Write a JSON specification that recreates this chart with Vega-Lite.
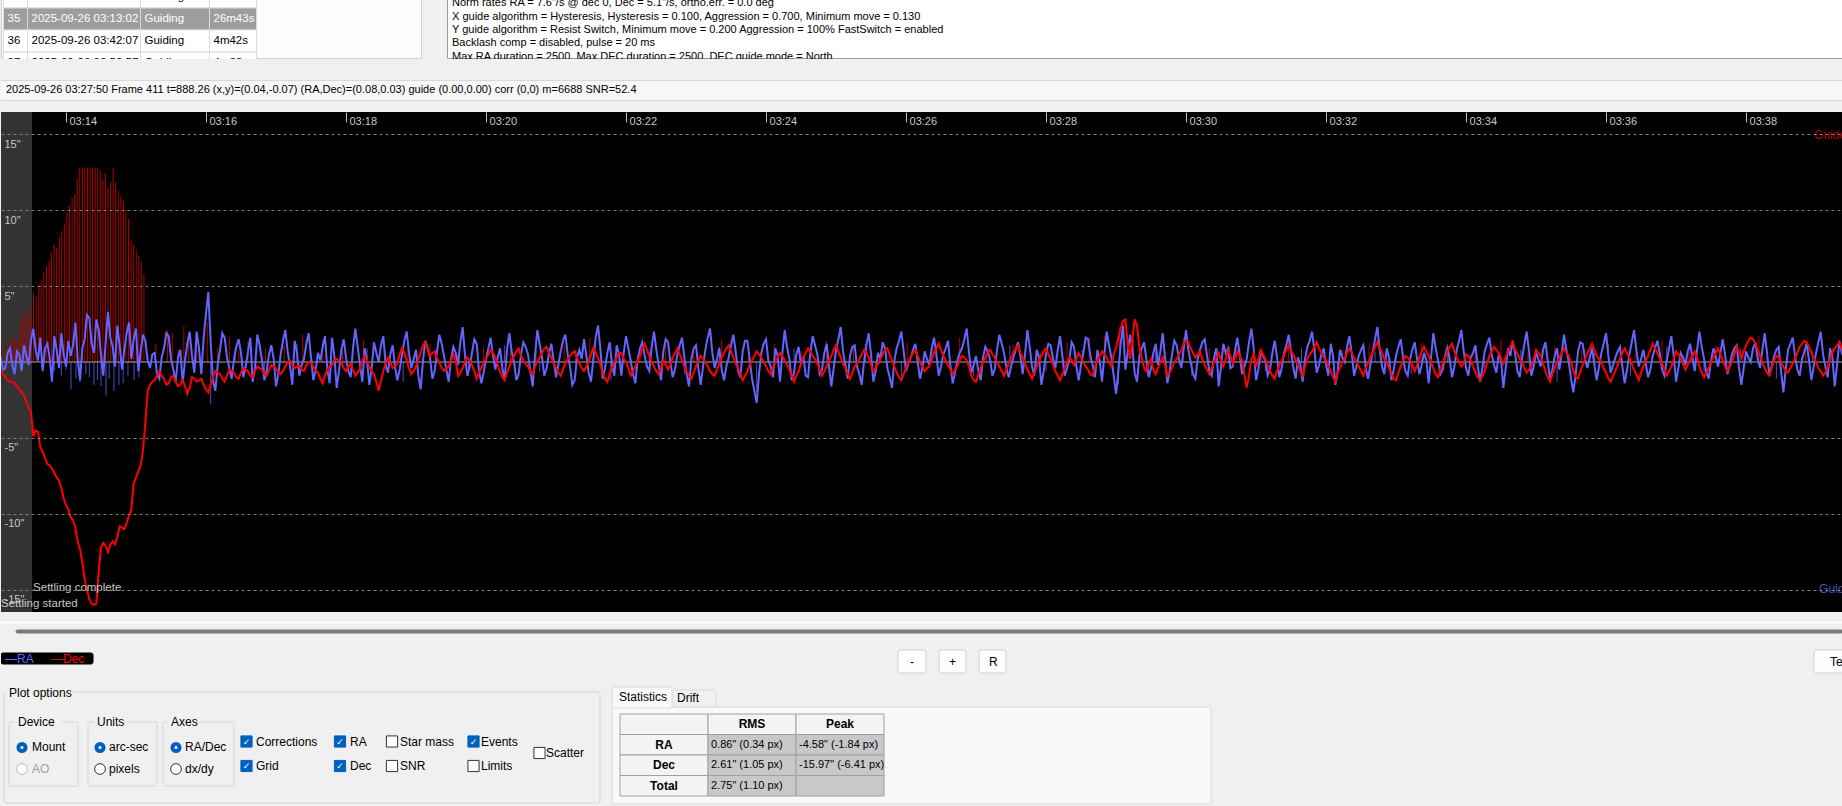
{
"$schema": "https://vega.github.io/schema/vega-lite/v6.json",
"background": "#f0f0f0",
"padding": 0,
"bounds": "flush",
"spacing": 0,
"config": {"view": {"stroke": null}, "font": "Liberation Sans"},
"datasets": {
"guide": [
{"t":4,"r":0.3,"d":-0.6},{"t":6,"r":-0.5,"d":-0.8},{"t":8,"r":-0.4,"d":-1.0},{"t":10,"r":0.6,"d":-1.2},{"t":12,"r":0.9,"d":-1.3},{"t":14,"r":-0.2,"d":-1.3},{"t":16,"r":-0.8,"d":-1.4},{"t":18,"r":0.7,"d":-1.6},{"t":20,"r":0.5,"d":-1.8},{"t":22,"r":-0.6,"d":-2.0},
{"t":24,"r":1.1,"d":-2.2},{"t":26,"r":0.4,"d":-2.6},{"t":28,"r":-0.2,"d":-3.0},{"t":30,"r":1.4,"d":-3.3},{"t":32,"r":2.2,"d":-4.9},{"t":34,"r":0.8,"d":-4.5},{"t":36,"r":0.1,"d":-4.6},{"t":38,"r":1.6,"d":-5.6},{"t":40,"r":-0.6,"d":-5.9},{"t":42,"r":0.9,"d":-6.3},
{"t":44,"r":1.2,"d":-6.7},{"t":46,"r":0.3,"d":-6.8},{"t":48,"r":-1.3,"d":-7.0},{"t":50,"r":1.7,"d":-7.3},{"t":52,"r":0.8,"d":-7.6},{"t":54,"r":-0.4,"d":-7.8},{"t":56,"r":1.9,"d":-8.3},{"t":58,"r":0.5,"d":-9.0},{"t":60,"r":-0.3,"d":-9.4},{"t":62,"r":1.4,"d":-9.7},
{"t":64,"r":0.4,"d":-10.2},{"t":66,"r":1.1,"d":-10.4},{"t":68,"r":2.6,"d":-10.9},{"t":70,"r":0.2,"d":-11.8},{"t":72,"r":-1.2,"d":-12.3},{"t":74,"r":0.9,"d":-13.2},{"t":76,"r":1.5,"d":-14.3},{"t":78,"r":3.1,"d":-15.0},{"t":80,"r":2.9,"d":-15.6},{"t":82,"r":1.2,"d":-15.9},
{"t":84,"r":0.6,"d":-16.0},{"t":86,"r":2.8,"d":-15.9},{"t":88,"r":2.1,"d":-13.8},{"t":90,"r":0.5,"d":-12.2},{"t":92,"r":-0.9,"d":-11.9},{"t":94,"r":1.3,"d":-12.1},{"t":96,"r":3.3,"d":-12.5},{"t":98,"r":1.6,"d":-12.0},{"t":100,"r":1.0,"d":-11.8},{"t":102,"r":-0.3,"d":-12.0},
{"t":104,"r":2.4,"d":-11.5},{"t":106,"r":1.1,"d":-10.8},{"t":108,"r":-0.5,"d":-10.9},{"t":110,"r":0.8,"d":-11.0},{"t":112,"r":1.9,"d":-10.6},{"t":114,"r":2.6,"d":-10.1},{"t":116,"r":0.2,"d":-9.7},{"t":118,"r":1.5,"d":-8.0},{"t":120,"r":2.2,"d":-7.6},{"t":122,"r":-0.6,"d":-7.2},
{"t":124,"r":0.7,"d":-6.8},{"t":126,"r":1.8,"d":-5.8},{"t":128,"r":1.4,"d":-4.0},{"t":130,"r":0.1,"d":-1.9},{"t":132,"r":-0.4,"d":-1.5},
{"t":134,"r":0.5,"d":-1.3},{"t":136,"r":0.6,"d":-1.2},{"t":138,"r":-0.8,"d":-0.9},{"t":140,"r":-1.1,"d":-0.6},{"t":142,"r":0.3,"d":-0.9},{"t":144,"r":0.9,"d":-1.1},{"t":146,"r":1.9,"d":-1.5},{"t":148,"r":1.7,"d":-1.4},{"t":150,"r":0.2,"d":-1.0},{"t":152,"r":-0.5,"d":-0.9},
{"t":154,"r":-1.3,"d":-1.3},{"t":156,"r":0.3,"d":-1.6},{"t":158,"r":0.8,"d":-1.5},{"t":160,"r":-1.4,"d":-1.2},{"t":162,"r":0.1,"d":-1.6},{"t":164,"r":1.2,"d":-2.1},{"t":166,"r":2.0,"d":-1.7},{"t":168,"r":0.4,"d":-1.0},{"t":170,"r":-0.7,"d":-1.1},{"t":172,"r":2.0,"d":-1.3},
{"t":174,"r":0.9,"d":-1.2},{"t":176,"r":-0.8,"d":-1.1},{"t":178,"r":1.6,"d":-1.5},{"t":180,"r":3.2,"d":-1.8},{"t":182,"r":4.6,"d":-2.0},{"t":184,"r":1.3,"d":-1.5},{"t":186,"r":-1.2,"d":-1.0},{"t":188,"r":-1.9,"d":-0.6},{"t":190,"r":-0.2,"d":-0.7},{"t":192,"r":0.8,"d":-0.8},
{"t":194,"r":1.9,"d":-1.1},{"t":196,"r":1.6,"d":-1.3},{"t":198,"r":0.3,"d":-0.9},{"t":200,"r":-0.4,"d":-0.5},{"t":202,"r":-1.1,"d":-0.6},{"t":204,"r":0.2,"d":-0.7},{"t":206,"r":1.0,"d":-1.0},{"t":208,"r":1.5,"d":-1.1},{"t":210,"r":0.6,"d":-0.7},{"t":212,"r":-1.0,"d":-0.4},
{"t":214,"r":-0.3,"d":-0.5},{"t":216,"r":0.7,"d":-0.6},{"t":218,"r":1.6,"d":-0.9},{"t":220,"r":-1.3,"d":-1.0},{"t":222,"r":-0.4,"d":-0.6},{"t":224,"r":1.8,"d":-0.3},{"t":226,"r":1.1,"d":-0.4},{"t":228,"r":0.1,"d":-0.5},{"t":230,"r":-1.2,"d":-0.8},{"t":232,"r":-0.6,"d":-0.9},
{"t":234,"r":0.5,"d":-0.5},{"t":236,"r":1.1,"d":-0.2},{"t":238,"r":0.2,"d":-0.3},{"t":240,"r":-1.6,"d":-0.4},{"t":242,"r":-0.8,"d":-0.7},{"t":244,"r":0.5,"d":-0.8},{"t":246,"r":1.4,"d":-0.6},{"t":248,"r":2.1,"d":-0.3},{"t":250,"r":0.7,"d":0.0},{"t":252,"r":-0.3,"d":0.1},
{"t":254,"r":-1.5,"d":-0.2},{"t":256,"r":1.4,"d":-0.4},{"t":258,"r":0.6,"d":-0.3},{"t":260,"r":-0.9,"d":-0.2},{"t":262,"r":-0.2,"d":-0.5},{"t":264,"r":0.2,"d":-0.6},{"t":266,"r":1.2,"d":-0.2},{"t":268,"r":1.9,"d":0.0},{"t":270,"r":0.3,"d":-0.1},{"t":272,"r":-1.2,"d":-0.3},
{"t":274,"r":-0.5,"d":-0.6},{"t":276,"r":0.6,"d":-0.7},{"t":278,"r":0.1,"d":-1.1},{"t":280,"r":1.0,"d":-1.4},{"t":282,"r":1.7,"d":-0.9},{"t":284,"r":-0.5,"d":-0.5},{"t":286,"r":-1.4,"d":-0.3},{"t":288,"r":1.6,"d":-0.2},{"t":290,"r":0.4,"d":0.1},{"t":292,"r":-1.7,"d":0.2},
{"t":294,"r":-0.6,"d":0.1},{"t":296,"r":0.8,"d":0.0},{"t":298,"r":1.5,"d":-0.4},{"t":300,"r":0.3,"d":-0.6},{"t":302,"r":-0.6,"d":-0.3},{"t":304,"r":-1.0,"d":-0.1},{"t":306,"r":0.9,"d":-0.5},{"t":308,"r":2.2,"d":-0.9},{"t":310,"r":1.0,"d":-0.7},{"t":312,"r":-0.2,"d":-0.4},
{"t":314,"r":-1.3,"d":0.1},{"t":316,"r":0.9,"d":0.4},{"t":318,"r":0.1,"d":0.1},{"t":320,"r":-1.5,"d":-0.3},{"t":322,"r":-0.4,"d":-0.6},{"t":324,"r":1.3,"d":-0.8},{"t":326,"r":0.6,"d":-1.3},{"t":328,"r":0.0,"d":-1.9},{"t":330,"r":1.1,"d":-1.2},{"t":332,"r":1.7,"d":-0.6},
{"t":334,"r":-0.2,"d":-0.1},{"t":336,"r":-0.7,"d":0.3},{"t":338,"r":0.5,"d":0.0},{"t":340,"r":1.1,"d":-0.4},{"t":342,"r":-0.3,"d":-0.3},{"t":344,"r":-1.2,"d":-0.1},{"t":346,"r":-0.5,"d":0.5},{"t":348,"r":0.5,"d":0.9},{"t":350,"r":1.4,"d":0.6},{"t":352,"r":2.0,"d":0.1},
{"t":354,"r":0.6,"d":-0.4},{"t":356,"r":-0.4,"d":-0.8},{"t":358,"r":0.2,"d":-0.6},{"t":360,"r":0.8,"d":-0.3},{"t":362,"r":-0.9,"d":0.2},{"t":364,"r":-1.8,"d":0.6},{"t":366,"r":0.1,"d":1.1},{"t":368,"r":1.4,"d":1.3},{"t":370,"r":0.9,"d":0.8},{"t":372,"r":0.3,"d":0.4},
{"t":374,"r":-1.1,"d":0.6},{"t":376,"r":-0.6,"d":0.7},{"t":378,"r":0.7,"d":0.2},{"t":380,"r":1.8,"d":0.0},{"t":382,"r":1.2,"d":-0.4},{"t":384,"r":0.4,"d":-0.6},{"t":386,"r":-0.5,"d":-0.4},{"t":388,"r":-1.3,"d":-0.3},{"t":390,"r":0.2,"d":0.1},{"t":392,"r":1.0,"d":0.5},
{"t":394,"r":0.6,"d":0.1},{"t":396,"r":-0.2,"d":-0.9},{"t":398,"r":1.3,"d":-0.7},{"t":400,"r":2.3,"d":-0.4},{"t":402,"r":0.4,"d":0.0},{"t":404,"r":-0.9,"d":0.3},{"t":406,"r":-0.3,"d":0.1},{"t":408,"r":0.6,"d":-0.2},{"t":410,"r":1.5,"d":-0.6},{"t":412,"r":1.2,"d":-1.1},
{"t":414,"r":-0.6,"d":-0.7},{"t":416,"r":-1.4,"d":-0.4},{"t":418,"r":-0.7,"d":0.0},{"t":420,"r":0.2,"d":0.2},{"t":422,"r":0.9,"d":0.5},{"t":424,"r":1.6,"d":0.8},{"t":426,"r":0.4,"d":0.6},{"t":428,"r":-0.5,"d":0.3},{"t":430,"r":0.3,"d":-0.2},{"t":432,"r":0.9,"d":-0.6},
{"t":434,"r":-0.4,"d":-1.0},{"t":436,"r":-1.1,"d":-1.2},{"t":438,"r":0.8,"d":-0.7},{"t":440,"r":1.9,"d":-0.3},{"t":442,"r":0.7,"d":0.1},{"t":444,"r":0.0,"d":0.4},{"t":446,"r":-1.2,"d":0.7},{"t":448,"r":-0.8,"d":0.9},{"t":450,"r":0.5,"d":0.4},{"t":452,"r":1.3,"d":0.1},
{"t":454,"r":1.0,"d":-0.1},{"t":456,"r":0.5,"d":-0.3},{"t":458,"r":-0.6,"d":-0.6},{"t":460,"r":-1.6,"d":-0.8},{"t":462,"r":0.4,"d":-0.3},{"t":464,"r":2.1,"d":0.0},{"t":466,"r":1.2,"d":0.3},{"t":468,"r":0.3,"d":0.6},{"t":470,"r":-0.9,"d":0.9},{"t":472,"r":-0.4,"d":1.0},
{"t":474,"r":0.6,"d":0.6},{"t":476,"r":1.2,"d":0.3},{"t":478,"r":0.1,"d":-0.1},{"t":480,"r":-1.0,"d":-0.4},{"t":482,"r":-0.2,"d":-0.7},{"t":484,"r":0.7,"d":-0.9},{"t":486,"r":1.4,"d":-0.5},{"t":488,"r":1.8,"d":-0.1},{"t":490,"r":0.5,"d":0.2},{"t":492,"r":-0.3,"d":0.4},
{"t":494,"r":-1.5,"d":0.6},{"t":496,"r":-1.2,"d":0.7},{"t":498,"r":0.3,"d":0.3},{"t":500,"r":0.8,"d":-0.1},{"t":502,"r":0.2,"d":-0.4},{"t":504,"r":1.5,"d":-0.6},{"t":506,"r":0.4,"d":-0.3},{"t":508,"r":-0.7,"d":0.1},{"t":510,"r":-1.3,"d":0.5},{"t":512,"r":0.2,"d":0.9},
{"t":514,"r":1.6,"d":0.6},{"t":516,"r":2.4,"d":0.3},{"t":518,"r":0.9,"d":-0.2},{"t":520,"r":-1.1,"d":-0.7},{"t":522,"r":-0.4,"d":-1.1},{"t":524,"r":0.6,"d":-1.3},{"t":526,"r":1.3,"d":-0.8},{"t":528,"r":-0.2,"d":-0.4},{"t":530,"r":-0.9,"d":0.0},{"t":532,"r":1.1,"d":0.3},
{"t":534,"r":0.5,"d":0.6},{"t":536,"r":-0.9,"d":0.6},{"t":538,"r":0.6,"d":0.2},{"t":540,"r":1.7,"d":0.0},{"t":542,"r":0.9,"d":-0.4},{"t":544,"r":0.1,"d":-0.9},{"t":546,"r":-0.8,"d":-0.6},{"t":548,"r":-1.4,"d":-0.3},{"t":550,"r":0.2,"d":0.1},{"t":552,"r":0.9,"d":0.4},
{"t":554,"r":1.3,"d":0.9},{"t":556,"r":0.4,"d":1.2},{"t":558,"r":-0.3,"d":0.8},{"t":560,"r":-0.6,"d":0.4},{"t":562,"r":1.0,"d":0.0},{"t":564,"r":2.0,"d":-0.3},{"t":566,"r":0.8,"d":-0.6},{"t":568,"r":-0.2,"d":-0.8},{"t":570,"r":-1.2,"d":-0.4},{"t":572,"r":0.7,"d":0.1},
{"t":574,"r":1.5,"d":-0.2},{"t":576,"r":1.3,"d":-0.5},{"t":578,"r":0.0,"d":-0.2},{"t":580,"r":-1.0,"d":0.3},{"t":582,"r":-0.5,"d":0.6},{"t":584,"r":0.5,"d":0.9},{"t":586,"r":1.1,"d":0.5},{"t":588,"r":1.6,"d":0.1},{"t":590,"r":0.3,"d":-0.3},{"t":592,"r":-0.8,"d":-0.6},
{"t":594,"r":-1.6,"d":-0.9},{"t":596,"r":0.2,"d":-1.1},{"t":598,"r":0.9,"d":-0.7},{"t":600,"r":1.1,"d":-0.3},{"t":602,"r":-0.4,"d":0.1},{"t":604,"r":-1.5,"d":0.4},{"t":606,"r":-0.3,"d":0.2},{"t":608,"r":0.8,"d":0.0},{"t":610,"r":1.6,"d":-0.3},{"t":612,"r":2.2,"d":-0.6},
{"t":614,"r":0.6,"d":-0.8},{"t":616,"r":-0.4,"d":-0.9},{"t":618,"r":0.2,"d":-0.5},{"t":620,"r":0.9,"d":-0.1},{"t":622,"r":-0.5,"d":0.3},{"t":624,"r":-1.2,"d":0.6},{"t":626,"r":-0.3,"d":0.9},{"t":628,"r":0.3,"d":1.1},{"t":630,"r":1.1,"d":0.7},{"t":632,"r":1.8,"d":0.3},
{"t":634,"r":0.7,"d":-0.1},{"t":636,"r":-0.6,"d":-0.4},{"t":638,"r":-1.0,"d":-0.8},{"t":640,"r":0.7,"d":-1.2},{"t":642,"r":1.4,"d":-0.9},{"t":644,"r":1.4,"d":-0.6},{"t":646,"r":0.2,"d":-0.2},{"t":648,"r":-1.1,"d":0.1},{"t":650,"r":-1.9,"d":0.4},{"t":652,"r":-2.7,"d":0.7},
{"t":654,"r":-0.8,"d":0.5},{"t":656,"r":0.6,"d":0.3},{"t":658,"r":1.2,"d":0.0},{"t":660,"r":1.5,"d":-0.3},{"t":662,"r":0.1,"d":-0.6},{"t":664,"r":-0.3,"d":-0.8},{"t":666,"r":-1.0,"d":-0.4},{"t":668,"r":0.9,"d":0.0},{"t":670,"r":0.4,"d":0.3},{"t":672,"r":-1.3,"d":0.6},
{"t":674,"r":0.6,"d":0.4},{"t":676,"r":2.1,"d":0.1},{"t":678,"r":1.0,"d":-0.2},{"t":680,"r":0.2,"d":-0.5},{"t":682,"r":-1.2,"d":-0.9},{"t":684,"r":-0.7,"d":-1.3},{"t":686,"r":0.5,"d":-0.9},{"t":688,"r":1.0,"d":-0.6},{"t":690,"r":-0.2,"d":-0.1},{"t":692,"r":0.4,"d":0.3},
{"t":694,"r":-0.9,"d":0.6},{"t":696,"r":-1.0,"d":0.9},{"t":698,"r":0.6,"d":0.7},{"t":700,"r":1.7,"d":0.4},{"t":702,"r":1.1,"d":0.2},{"t":704,"r":0.5,"d":-0.1},{"t":706,"r":-0.8,"d":-0.5},{"t":708,"r":-0.5,"d":-0.9},{"t":710,"r":0.6,"d":-0.6},{"t":712,"r":1.2,"d":-0.3},
{"t":714,"r":-0.3,"d":0.1},{"t":716,"r":-1.6,"d":0.4},{"t":718,"r":-0.4,"d":0.8},{"t":720,"r":0.8,"d":1.1},{"t":722,"r":1.5,"d":0.7},{"t":724,"r":2.3,"d":0.3},{"t":726,"r":0.7,"d":-0.1},{"t":728,"r":-0.2,"d":-0.4},{"t":730,"r":-1.1,"d":-0.8},{"t":732,"r":0.4,"d":-1.1},
{"t":734,"r":1.0,"d":-0.7},{"t":736,"r":1.1,"d":-0.3},{"t":738,"r":-0.3,"d":-0.1},{"t":740,"r":-0.8,"d":0.2},{"t":742,"r":-1.5,"d":0.5},{"t":744,"r":0.0,"d":0.8},{"t":746,"r":1.1,"d":0.6},{"t":748,"r":1.9,"d":0.3},{"t":750,"r":0.5,"d":-0.2},{"t":752,"r":-1.3,"d":-0.6},
{"t":754,"r":-0.6,"d":-0.4},{"t":756,"r":0.6,"d":-0.1},{"t":758,"r":0.2,"d":0.2},{"t":760,"r":1.3,"d":0.5},{"t":762,"r":0.9,"d":0.8},{"t":764,"r":-0.4,"d":0.9},{"t":766,"r":-1.0,"d":0.5},{"t":768,"r":-1.7,"d":0.1},{"t":770,"r":0.1,"d":-0.3},{"t":772,"r":0.9,"d":-0.7},
{"t":774,"r":1.4,"d":-1.0},{"t":776,"r":2.0,"d":-1.2},{"t":778,"r":0.7,"d":-0.8},{"t":780,"r":-0.6,"d":-0.4},{"t":782,"r":-0.1,"d":0.0},{"t":784,"r":0.3,"d":0.3},{"t":786,"r":0.8,"d":0.6},{"t":788,"r":1.2,"d":0.8},{"t":790,"r":0.0,"d":0.4},{"t":792,"r":-1.1,"d":0.0},
{"t":794,"r":-0.4,"d":-0.3},{"t":796,"r":0.7,"d":-0.6},{"t":798,"r":0.2,"d":-0.4},{"t":800,"r":-0.2,"d":-0.3},{"t":802,"r":0.9,"d":0.2},{"t":804,"r":1.6,"d":0.6},{"t":806,"r":0.5,"d":0.9},{"t":808,"r":-0.9,"d":1.2},{"t":810,"r":-0.3,"d":0.8},{"t":812,"r":0.5,"d":0.4},
{"t":814,"r":0.9,"d":0.1},{"t":816,"r":1.4,"d":-0.2},{"t":818,"r":-0.2,"d":-0.5},{"t":820,"r":-1.4,"d":-0.8},{"t":822,"r":-0.7,"d":-0.5},{"t":824,"r":0.1,"d":-0.3},{"t":826,"r":0.6,"d":0.1},{"t":828,"r":0.9,"d":0.4},{"t":830,"r":1.5,"d":0.3},{"t":832,"r":2.2,"d":0.1},
{"t":834,"r":0.6,"d":-0.3},{"t":836,"r":-0.7,"d":-0.9},{"t":838,"r":-0.2,"d":-1.2},{"t":840,"r":0.4,"d":-1.3},{"t":842,"r":-0.6,"d":-0.8},{"t":844,"r":-1.2,"d":-0.4},{"t":846,"r":0.3,"d":0.0},{"t":848,"r":1.0,"d":0.3},{"t":850,"r":0.7,"d":0.6},{"t":852,"r":0.2,"d":0.8},
{"t":854,"r":-0.9,"d":0.5},{"t":856,"r":-0.5,"d":0.3},{"t":858,"r":0.8,"d":0.0},{"t":860,"r":1.8,"d":-0.3},{"t":862,"r":1.2,"d":-0.6},{"t":864,"r":0.6,"d":-0.9},{"t":866,"r":-0.4,"d":-0.5},{"t":868,"r":-1.0,"d":-0.1},{"t":870,"r":-0.3,"d":0.3},{"t":872,"r":0.3,"d":0.6},
{"t":874,"r":0.8,"d":0.9},{"t":876,"r":1.3,"d":1.1},{"t":878,"r":0.4,"d":0.6},{"t":880,"r":-0.8,"d":0.3},{"t":882,"r":0.5,"d":-0.1},{"t":884,"r":2.1,"d":-0.5},{"t":886,"r":1.0,"d":-0.8},{"t":888,"r":-0.3,"d":-1.1},{"t":890,"r":-0.9,"d":-0.7},{"t":892,"r":0.8,"d":-0.3},
{"t":894,"r":0.3,"d":0.1},{"t":896,"r":-1.5,"d":0.4},{"t":898,"r":-0.6,"d":0.7},{"t":900,"r":0.5,"d":0.9},{"t":902,"r":1.2,"d":0.5},{"t":904,"r":1.1,"d":0.2},{"t":906,"r":0.2,"d":-0.2},{"t":908,"r":-0.4,"d":-0.6},{"t":910,"r":0.8,"d":-0.9},{"t":912,"r":1.7,"d":-1.2},
{"t":914,"r":0.4,"d":-0.8},{"t":916,"r":-0.9,"d":-0.4},{"t":918,"r":-0.4,"d":0.0},{"t":920,"r":0.2,"d":0.3},{"t":922,"r":1.3,"d":0.1},{"t":924,"r":1.0,"d":-0.2},{"t":926,"r":-0.3,"d":0.2},{"t":928,"r":-1.2,"d":0.6},{"t":930,"r":-0.2,"d":0.3},{"t":932,"r":0.6,"d":0.0},
{"t":934,"r":1.6,"d":-0.3},{"t":936,"r":1.5,"d":-0.5},{"t":938,"r":0.4,"d":-0.8},{"t":940,"r":-0.2,"d":-0.9},{"t":942,"r":-1.0,"d":-0.3},{"t":944,"r":0.8,"d":0.1},{"t":946,"r":0.1,"d":0.4},{"t":948,"r":-1.3,"d":0.7},{"t":950,"r":0.5,"d":0.5},{"t":952,"r":2.0,"d":0.3},
{"t":954,"r":1.1,"d":0.0},{"t":956,"r":0.3,"d":-0.3},{"t":958,"r":-0.9,"d":0.5},{"t":960,"r":-2.1,"d":0.9},{"t":962,"r":-0.6,"d":1.6},{"t":964,"r":1.2,"d":2.2},{"t":966,"r":2.4,"d":2.7},{"t":968,"r":-0.5,"d":2.8},{"t":970,"r":0.6,"d":1.2},{"t":972,"r":1.8,"d":0.2},
{"t":974,"r":0.9,"d":1.5},{"t":976,"r":-0.7,"d":2.8},{"t":978,"r":-1.3,"d":2.4},{"t":980,"r":0.4,"d":1.0},{"t":982,"r":0.9,"d":0.3},{"t":984,"r":1.3,"d":-0.4},{"t":986,"r":0.2,"d":-0.6},{"t":988,"r":-1.0,"d":-0.1},{"t":990,"r":-0.4,"d":0.2},{"t":992,"r":0.6,"d":-0.5},
{"t":994,"r":1.2,"d":-0.8},{"t":996,"r":-0.2,"d":-0.4},{"t":998,"r":0.7,"d":0.0},{"t":1000,"r":1.9,"d":0.3},{"t":1002,"r":0.3,"d":-0.2},{"t":1004,"r":-1.4,"d":-0.9},{"t":1006,"r":-0.6,"d":-0.7},{"t":1008,"r":0.5,"d":-0.4},{"t":1010,"r":1.4,"d":0.0},{"t":1012,"r":1.1,"d":0.2},
{"t":1014,"r":0.2,"d":0.5},{"t":1016,"r":-0.4,"d":0.8},{"t":1018,"r":0.9,"d":1.2},{"t":1020,"r":2.1,"d":1.4},{"t":1022,"r":0.8,"d":1.3},{"t":1024,"r":0.0,"d":0.9},{"t":1026,"r":-0.8,"d":0.6},{"t":1028,"r":-1.1,"d":0.3},{"t":1030,"r":0.2,"d":0.5},{"t":1032,"r":0.8,"d":0.7},
{"t":1034,"r":1.3,"d":0.2},{"t":1036,"r":1.5,"d":-0.2},{"t":1038,"r":0.4,"d":-0.5},{"t":1040,"r":-0.6,"d":-0.8},{"t":1042,"r":-0.9,"d":-0.4},{"t":1044,"r":0.3,"d":0.0},{"t":1046,"r":0.9,"d":0.3},{"t":1048,"r":-1.6,"d":0.6},{"t":1050,"r":-0.3,"d":0.1},{"t":1052,"r":1.2,"d":-0.3},
{"t":1054,"r":0.6,"d":0.2},{"t":1056,"r":0.9,"d":0.8},{"t":1058,"r":-0.4,"d":0.4},{"t":1060,"r":-0.3,"d":-0.1},{"t":1062,"r":0.8,"d":0.3},{"t":1064,"r":1.6,"d":0.7},{"t":1066,"r":0.5,"d":0.4},{"t":1068,"r":-0.8,"d":0.1},{"t":1070,"r":-0.3,"d":-0.8},{"t":1072,"r":0.2,"d":-1.7},
{"t":1074,"r":1.3,"d":-0.9},{"t":1076,"r":2.2,"d":0.2},{"t":1078,"r":0.9,"d":0.5},{"t":1080,"r":-1.2,"d":-0.3},{"t":1082,"r":-0.5,"d":0.2},{"t":1084,"r":0.7,"d":0.8},{"t":1086,"r":0.4,"d":0.5},{"t":1088,"r":0.1,"d":0.2},{"t":1090,"r":-0.9,"d":-0.2},{"t":1092,"r":-0.5,"d":-0.6},
{"t":1094,"r":0.6,"d":-0.9},{"t":1096,"r":1.4,"d":-1.1},{"t":1098,"r":0.3,"d":-0.6},{"t":1100,"r":-1.0,"d":-0.2},{"t":1102,"r":-0.4,"d":0.1},{"t":1104,"r":0.6,"d":0.4},{"t":1106,"r":1.1,"d":0.8},{"t":1108,"r":1.8,"d":1.1},{"t":1110,"r":0.7,"d":0.7},{"t":1112,"r":-0.4,"d":0.5},
{"t":1114,"r":-1.1,"d":0.1},{"t":1116,"r":0.3,"d":-0.2},{"t":1118,"r":-0.2,"d":-0.6},{"t":1120,"r":-1.3,"d":-0.9},{"t":1122,"r":0.2,"d":-0.3},{"t":1124,"r":1.0,"d":0.2},{"t":1126,"r":1.4,"d":0.5},{"t":1128,"r":2.0,"d":0.7},{"t":1130,"r":0.8,"d":1.0},{"t":1132,"r":-0.7,"d":1.3},
{"t":1134,"r":-0.2,"d":0.9},{"t":1136,"r":0.5,"d":0.6},{"t":1138,"r":0.9,"d":0.3},{"t":1140,"r":-0.2,"d":0.1},{"t":1142,"r":-0.9,"d":-0.3},{"t":1144,"r":1.2,"d":-0.6},{"t":1146,"r":0.4,"d":-1.0},{"t":1148,"r":-1.5,"d":-1.3},{"t":1150,"r":-0.6,"d":-0.7},{"t":1152,"r":0.8,"d":-0.4},
{"t":1154,"r":0.3,"d":0.0},{"t":1156,"r":0.0,"d":0.2},{"t":1158,"r":1.0,"d":0.6},{"t":1160,"r":1.7,"d":0.9},{"t":1162,"r":0.6,"d":0.6},{"t":1164,"r":-0.9,"d":0.3},{"t":1166,"r":-0.3,"d":0.0},{"t":1168,"r":0.4,"d":-0.3},{"t":1170,"r":0.8,"d":-0.6},{"t":1172,"r":1.1,"d":-0.9},
{"t":1174,"r":-0.4,"d":-0.4},{"t":1176,"r":-1.1,"d":-0.1},{"t":1178,"r":-0.2,"d":0.3},{"t":1180,"r":0.7,"d":0.6},{"t":1182,"r":1.5,"d":1.0},{"t":1184,"r":2.3,"d":1.3},{"t":1186,"r":0.8,"d":0.9},{"t":1188,"r":-0.3,"d":0.6},{"t":1190,"r":-0.8,"d":0.2},{"t":1192,"r":0.9,"d":0.0},
{"t":1194,"r":0.3,"d":-0.4},{"t":1196,"r":-1.2,"d":-0.8},{"t":1198,"r":-0.5,"d":-1.1},{"t":1200,"r":0.4,"d":-1.2},{"t":1202,"r":1.0,"d":-0.7},{"t":1204,"r":1.5,"d":-0.3},{"t":1206,"r":0.3,"d":0.1},{"t":1208,"r":-0.6,"d":0.4},{"t":1210,"r":-0.9,"d":0.3},{"t":1212,"r":0.2,"d":0.1},
{"t":1214,"r":0.8,"d":-0.2},{"t":1216,"r":1.3,"d":-0.6},{"t":1218,"r":0.2,"d":-0.2},{"t":1220,"r":-0.8,"d":0.3},{"t":1222,"r":-0.2,"d":0.7},{"t":1224,"r":0.6,"d":1.0},{"t":1226,"r":0.1,"d":0.7},{"t":1228,"r":-1.4,"d":0.4},{"t":1230,"r":0.3,"d":0.0},{"t":1232,"r":1.9,"d":-0.4},
{"t":1234,"r":0.9,"d":-0.8},{"t":1236,"r":0.1,"d":-1.0},{"t":1238,"r":-0.8,"d":-0.5},{"t":1240,"r":-0.5,"d":-0.1},{"t":1242,"r":0.4,"d":0.3},{"t":1244,"r":1.0,"d":0.7},{"t":1246,"r":0.2,"d":1.0},{"t":1248,"r":-1.0,"d":1.2},{"t":1250,"r":-0.3,"d":0.7},{"t":1252,"r":0.8,"d":0.3},
{"t":1254,"r":1.4,"d":0.0},{"t":1256,"r":2.1,"d":-0.3},{"t":1258,"r":0.7,"d":-0.1},{"t":1260,"r":-0.4,"d":0.5},{"t":1262,"r":-0.9,"d":0.4},{"t":1264,"r":0.3,"d":0.1},{"t":1266,"r":0.6,"d":-0.3},{"t":1268,"r":1.1,"d":-0.7},{"t":1270,"r":-0.2,"d":-1.0},{"t":1272,"r":-1.3,"d":-1.2},
{"t":1274,"r":-0.4,"d":-0.9},{"t":1276,"r":0.7,"d":-0.6},{"t":1278,"r":1.2,"d":-0.1},{"t":1280,"r":1.6,"d":0.4},{"t":1282,"r":0.5,"d":0.7},{"t":1284,"r":-0.2,"d":1.0},{"t":1286,"r":-0.7,"d":0.8},{"t":1288,"r":0.5,"d":0.6},{"t":1290,"r":0.1,"d":0.2},{"t":1292,"r":-1.7,"d":-0.1},
{"t":1294,"r":-0.4,"d":0.3},{"t":1296,"r":0.9,"d":0.7},{"t":1298,"r":0.4,"d":1.0},{"t":1300,"r":1.4,"d":1.3},{"t":1302,"r":0.6,"d":0.8},{"t":1304,"r":-0.6,"d":0.6},{"t":1306,"r":-1.0,"d":0.2},{"t":1308,"r":0.2,"d":0.0},{"t":1310,"r":1.2,"d":-0.4},{"t":1312,"r":2.0,"d":-0.7},
{"t":1314,"r":0.7,"d":-0.5},{"t":1316,"r":-0.9,"d":-0.3},{"t":1318,"r":-0.3,"d":0.2},{"t":1320,"r":0.6,"d":0.8},{"t":1322,"r":0.2,"d":0.6},{"t":1324,"r":-0.3,"d":0.4},{"t":1326,"r":0.8,"d":-0.1},{"t":1328,"r":1.3,"d":-0.6},{"t":1330,"r":0.1,"d":-1.0},{"t":1332,"r":-1.1,"d":-1.3},
{"t":1334,"r":-0.5,"d":-0.8},{"t":1336,"r":0.4,"d":-0.4},{"t":1338,"r":0.9,"d":0.0},{"t":1340,"r":-0.5,"d":0.3},{"t":1342,"r":0.6,"d":0.6},{"t":1344,"r":1.8,"d":0.9},{"t":1346,"r":0.8,"d":0.6},{"t":1348,"r":0.0,"d":0.4},{"t":1350,"r":-1.1,"d":0.0},{"t":1352,"r":-2.0,"d":-0.6},
{"t":1354,"r":-0.8,"d":-1.0},{"t":1356,"r":0.7,"d":-1.1},{"t":1358,"r":1.3,"d":-0.6},{"t":1360,"r":1.2,"d":-0.2},{"t":1362,"r":0.2,"d":0.2},{"t":1364,"r":-0.4,"d":0.6},{"t":1366,"r":0.3,"d":0.9},{"t":1368,"r":0.9,"d":1.2},{"t":1370,"r":-0.2,"d":0.8},{"t":1372,"r":-1.2,"d":0.4},
{"t":1374,"r":-0.3,"d":0.2},{"t":1376,"r":0.6,"d":0.0},{"t":1378,"r":1.2,"d":-0.4},{"t":1380,"r":1.9,"d":-0.7},{"t":1382,"r":0.4,"d":-1.1},{"t":1384,"r":-0.7,"d":-1.3},{"t":1386,"r":-0.2,"d":-0.9},{"t":1388,"r":0.3,"d":-0.6},{"t":1390,"r":0.7,"d":-0.2},{"t":1392,"r":1.0,"d":0.2},
{"t":1394,"r":-0.3,"d":0.6},{"t":1396,"r":-1.4,"d":0.9},{"t":1398,"r":-0.5,"d":0.6},{"t":1400,"r":0.5,"d":0.3},{"t":1402,"r":1.3,"d":-0.1},{"t":1404,"r":2.1,"d":-0.5},{"t":1406,"r":0.8,"d":-0.8},{"t":1408,"r":-0.3,"d":-1.2},{"t":1410,"r":0.2,"d":-0.7},{"t":1412,"r":0.8,"d":-0.3},
{"t":1414,"r":-0.1,"d":0.1},{"t":1416,"r":-1.0,"d":0.4},{"t":1418,"r":-0.5,"d":0.8},{"t":1420,"r":0.4,"d":1.2},{"t":1422,"r":0.9,"d":0.9},{"t":1424,"r":1.4,"d":0.6},{"t":1426,"r":0.6,"d":0.2},{"t":1428,"r":-0.5,"d":-0.1},{"t":1430,"r":-0.9,"d":-0.5},{"t":1432,"r":0.1,"d":-0.9},
{"t":1434,"r":0.9,"d":-0.6},{"t":1436,"r":1.7,"d":-0.3},{"t":1438,"r":0.4,"d":0.2},{"t":1440,"r":-1.3,"d":0.7},{"t":1442,"r":-0.4,"d":0.5},{"t":1444,"r":0.6,"d":0.3},{"t":1446,"r":0.3,"d":-0.1},{"t":1448,"r":-0.2,"d":-0.5},{"t":1450,"r":0.7,"d":-0.2},{"t":1452,"r":1.2,"d":0.1},
{"t":1454,"r":0.3,"d":0.4},{"t":1456,"r":-0.6,"d":0.7},{"t":1458,"r":0.8,"d":0.3},{"t":1460,"r":2.0,"d":-0.3},{"t":1462,"r":1.0,"d":-0.7},{"t":1464,"r":0.2,"d":-1.0},{"t":1466,"r":-0.7,"d":-0.7},{"t":1468,"r":-1.1,"d":-0.4},{"t":1470,"r":0.1,"d":0.0},{"t":1472,"r":0.9,"d":0.3},
{"t":1474,"r":0.4,"d":0.6},{"t":1476,"r":-0.3,"d":0.9},{"t":1478,"r":0.6,"d":0.5},{"t":1480,"r":1.5,"d":0.1},{"t":1482,"r":0.5,"d":-0.3},{"t":1484,"r":-0.8,"d":-0.6},{"t":1486,"r":-0.2,"d":-0.3},{"t":1488,"r":0.5,"d":0.0},{"t":1490,"r":0.9,"d":0.5},{"t":1492,"r":1.1,"d":1.0},
{"t":1494,"r":-0.4,"d":0.6},{"t":1496,"r":-1.5,"d":0.3},{"t":1498,"r":-0.4,"d":0.7},{"t":1500,"r":0.7,"d":1.1},{"t":1502,"r":0.3,"d":1.4},{"t":1504,"r":0.0,"d":1.6},{"t":1506,"r":0.9,"d":1.5},{"t":1508,"r":1.3,"d":1.2},{"t":1510,"r":0.2,"d":0.8},{"t":1512,"r":-0.4,"d":0.4},
{"t":1514,"r":0.8,"d":0.0},{"t":1516,"r":1.9,"d":-0.4},{"t":1518,"r":0.6,"d":-0.7},{"t":1520,"r":-0.9,"d":-0.9},{"t":1522,"r":-0.3,"d":-0.4},{"t":1524,"r":0.4,"d":0.1},{"t":1526,"r":0.8,"d":0.4},{"t":1528,"r":1.0,"d":0.3},{"t":1530,"r":-0.6,"d":0.0},{"t":1532,"r":-2.0,"d":-0.3},
{"t":1534,"r":-0.5,"d":-0.6},{"t":1536,"r":0.8,"d":-0.7},{"t":1538,"r":1.2,"d":-0.4},{"t":1540,"r":1.6,"d":-0.1},{"t":1542,"r":0.4,"d":0.2},{"t":1544,"r":-0.5,"d":0.6},{"t":1546,"r":-0.9,"d":1.0},{"t":1548,"r":0.2,"d":1.2},{"t":1550,"r":0.7,"d":1.4},{"t":1552,"r":1.2,"d":1.3},
{"t":1554,"r":0.1,"d":1.0},{"t":1556,"r":-1.2,"d":0.6},{"t":1558,"r":-0.3,"d":0.3},{"t":1560,"r":0.6,"d":0.0},{"t":1562,"r":1.3,"d":-0.4},{"t":1564,"r":2.0,"d":-0.6},{"t":1566,"r":0.5,"d":-0.9},{"t":1568,"r":-0.3,"d":-0.7},{"t":1570,"r":-1.0,"d":-0.3},{"t":1572,"r":0.9,"d":0.2},
{"t":1574,"r":0.3,"d":0.6},{"t":1576,"r":-1.6,"d":0.9},{"t":1578,"r":-0.2,"d":1.1},{"t":1580,"r":1.4,"d":1.3},{"t":1582,"r":0.6,"d":0.9},{"t":1584,"r":0.3,"d":0.6}
],
"corr": [
{"t":8.0,"ax":"Dec","c":0.9},{"t":10.2,"ax":"Dec","c":1.3},{"t":12.4,"ax":"Dec","c":1.6},{"t":14.6,"ax":"Dec","c":1.2},{"t":16.8,"ax":"Dec","c":1.9},{"t":19.0,"ax":"Dec","c":1.5},{"t":21.2,"ax":"Dec","c":2.8},{"t":23.4,"ax":"Dec","c":3.1},{"t":25.6,"ax":"Dec","c":3.3},{"t":27.8,"ax":"Dec","c":3.6},{"t":30.0,"ax":"Dec","c":2.8},{"t":32.2,"ax":"Dec","c":4.6},{"t":34.4,"ax":"Dec","c":4.3},{"t":36.6,"ax":"Dec","c":5.1},{"t":38.8,"ax":"Dec","c":5.4},{"t":41.0,"ax":"Dec","c":5.9},{"t":43.2,"ax":"Dec","c":6.3},{"t":45.4,"ax":"Dec","c":6.7},{"t":47.6,"ax":"Dec","c":7.2},{"t":49.8,"ax":"Dec","c":7.7},{"t":52.0,"ax":"Dec","c":7.5},{"t":54.2,"ax":"Dec","c":8.2},{"t":56.4,"ax":"Dec","c":8.6},{"t":58.6,"ax":"Dec","c":9.1},{"t":60.8,"ax":"Dec","c":9.8},{"t":63.0,"ax":"Dec","c":10.3},{"t":65.2,"ax":"Dec","c":10.8},{"t":67.4,"ax":"Dec","c":11.0},{"t":69.6,"ax":"Dec","c":12.1},{"t":71.8,"ax":"Dec","c":12.8},{"t":74.0,"ax":"Dec","c":12.8},{"t":76.2,"ax":"Dec","c":12.8},{"t":78.4,"ax":"Dec","c":12.8},{"t":80.6,"ax":"Dec","c":12.8},{"t":82.8,"ax":"Dec","c":12.8},{"t":85.0,"ax":"Dec","c":12.8},{"t":87.2,"ax":"Dec","c":12.8},{"t":89.4,"ax":"Dec","c":12.6},{"t":91.6,"ax":"Dec","c":12.0},{"t":93.8,"ax":"Dec","c":12.4},{"t":96.0,"ax":"Dec","c":11.5},{"t":98.2,"ax":"Dec","c":11.8},{"t":100.4,"ax":"Dec","c":12.8},{"t":102.6,"ax":"Dec","c":11.8},{"t":104.8,"ax":"Dec","c":11.3},{"t":107.0,"ax":"Dec","c":10.9},{"t":109.2,"ax":"Dec","c":10.6},{"t":111.4,"ax":"Dec","c":10.0},{"t":113.6,"ax":"Dec","c":9.4},{"t":115.8,"ax":"Dec","c":8.0},{"t":118.0,"ax":"Dec","c":7.7},{"t":120.2,"ax":"Dec","c":7.4},{"t":122.4,"ax":"Dec","c":7.0},{"t":124.6,"ax":"Dec","c":6.6},{"t":126.8,"ax":"Dec","c":5.8},
{"t":137,"ax":"Dec","c":1.2},{"t":147,"ax":"Dec","c":2.1},{"t":151,"ax":"Dec","c":1.9},{"t":156,"ax":"Dec","c":0.8},{"t":161,"ax":"Dec","c":2.4},{"t":165,"ax":"Dec","c":1.5},{"t":172,"ax":"Dec","c":1.0},{"t":181,"ax":"Dec","c":2.6},{"t":190,"ax":"Dec","c":0.9},{"t":200,"ax":"Dec","c":1.7},{"t":208,"ax":"Dec","c":0.7},{"t":216,"ax":"Dec","c":1.4},{"t":231,"ax":"Dec","c":0.9},{"t":247,"ax":"Dec","c":1.1},{"t":263,"ax":"Dec","c":1.8},{"t":280,"ax":"Dec","c":1.4},{"t":297,"ax":"Dec","c":0.8},{"t":315,"ax":"Dec","c":1.4},{"t":334,"ax":"Dec","c":0.7},{"t":353,"ax":"Dec","c":0.9},{"t":372,"ax":"Dec","c":1.2},{"t":396,"ax":"Dec","c":0.6},{"t":418,"ax":"Dec","c":1.0},{"t":441,"ax":"Dec","c":1.3},{"t":463,"ax":"Dec","c":0.8},{"t":487,"ax":"Dec","c":1.1},{"t":509,"ax":"Dec","c":1.6},{"t":531,"ax":"Dec","c":0.7},{"t":552,"ax":"Dec","c":1.0},{"t":574,"ax":"Dec","c":1.3},{"t":598,"ax":"Dec","c":0.9},{"t":622,"ax":"Dec","c":1.5},{"t":645,"ax":"Dec","c":0.8},{"t":667,"ax":"Dec","c":1.2},{"t":690,"ax":"Dec","c":0.7},{"t":712,"ax":"Dec","c":1.4},{"t":735,"ax":"Dec","c":1.0},{"t":758,"ax":"Dec","c":0.6},{"t":781,"ax":"Dec","c":1.3},{"t":803,"ax":"Dec","c":0.9},{"t":826,"ax":"Dec","c":1.6},{"t":849,"ax":"Dec","c":0.8},{"t":872,"ax":"Dec","c":1.1},{"t":895,"ax":"Dec","c":0.7},{"t":918,"ax":"Dec","c":1.3},{"t":937,"ax":"Dec","c":1.6},{"t":950,"ax":"Dec","c":1.7},{"t":963,"ax":"Dec","c":2.3},{"t":975,"ax":"Dec","c":1.5},{"t":995,"ax":"Dec","c":0.8},{"t":1018,"ax":"Dec","c":1.6},{"t":1040,"ax":"Dec","c":0.9},{"t":1063,"ax":"Dec","c":1.2},{"t":1085,"ax":"Dec","c":0.7},{"t":1108,"ax":"Dec","c":1.4},{"t":1131,"ax":"Dec","c":1.0},{"t":1154,"ax":"Dec","c":0.8},{"t":1177,"ax":"Dec","c":1.2},{"t":1200,"ax":"Dec","c":0.6},{"t":1222,"ax":"Dec","c":1.3},{"t":1245,"ax":"Dec","c":0.9},{"t":1268,"ax":"Dec","c":1.1},{"t":1290,"ax":"Dec","c":1.5},{"t":1313,"ax":"Dec","c":0.7},{"t":1336,"ax":"Dec","c":1.0},{"t":1359,"ax":"Dec","c":0.8},{"t":1382,"ax":"Dec","c":1.2},{"t":1405,"ax":"Dec","c":0.6},{"t":1428,"ax":"Dec","c":1.4},{"t":1451,"ax":"Dec","c":0.9},{"t":1474,"ax":"Dec","c":1.1},{"t":1497,"ax":"Dec","c":0.8},{"t":1511,"ax":"Dec","c":1.7},{"t":1528,"ax":"Dec","c":1.0},{"t":1551,"ax":"Dec","c":1.3},{"t":1574,"ax":"Dec","c":0.9},
{"t":50,"ax":"RA","c":-0.6},{"t":56,"ax":"RA","c":-0.9},{"t":60,"ax":"RA","c":-0.5},{"t":64.3,"ax":"RA","c":-1.8},{"t":68.6,"ax":"RA","c":-1.1},{"t":72,"ax":"RA","c":-1.3},{"t":77.1,"ax":"RA","c":-0.8},{"t":80,"ax":"RA","c":-1.0},{"t":84,"ax":"RA","c":-1.5},{"t":87,"ax":"RA","c":-1.2},{"t":90,"ax":"RA","c":-1.6},{"t":94.3,"ax":"RA","c":-2.2},{"t":97,"ax":"RA","c":-1.1},{"t":101.1,"ax":"RA","c":-1.9},{"t":105.4,"ax":"RA","c":-1.5},{"t":109,"ax":"RA","c":-1.4},{"t":113.1,"ax":"RA","c":-0.9},{"t":118.3,"ax":"RA","c":-1.2},{"t":122.6,"ax":"RA","c":-1.0},
{"t":184,"ax":"RA","c":-2.8},{"t":205,"ax":"RA","c":0.8},{"t":230,"ax":"RA","c":-1.0},{"t":258,"ax":"RA","c":1.2},{"t":287,"ax":"RA","c":-0.7},{"t":318,"ax":"RA","c":0.9},{"t":349,"ax":"RA","c":-1.3},{"t":377,"ax":"RA","c":0.6},{"t":405,"ax":"RA","c":-0.9},{"t":436,"ax":"RA","c":1.1},{"t":466,"ax":"RA","c":-0.6},{"t":497,"ax":"RA","c":0.8},{"t":527,"ax":"RA","c":-1.2},{"t":560,"ax":"RA","c":0.7},{"t":590,"ax":"RA","c":-0.8},{"t":620,"ax":"RA","c":1.0},{"t":652,"ax":"RA","c":-2.0},{"t":684,"ax":"RA","c":0.9},{"t":714,"ax":"RA","c":-0.7},{"t":745,"ax":"RA","c":1.2},{"t":776,"ax":"RA","c":-1.0},{"t":806,"ax":"RA","c":0.6},{"t":838,"ax":"RA","c":-0.9},{"t":869,"ax":"RA","c":1.1},{"t":900,"ax":"RA","c":-0.6},{"t":931,"ax":"RA","c":0.8},{"t":962,"ax":"RA","c":-1.5},{"t":994,"ax":"RA","c":0.7},{"t":1025,"ax":"RA","c":-0.9},{"t":1057,"ax":"RA","c":1.0},{"t":1088,"ax":"RA","c":-0.6},{"t":1119,"ax":"RA","c":0.9},{"t":1150,"ax":"RA","c":-1.1},{"t":1182,"ax":"RA","c":0.7},{"t":1213,"ax":"RA","c":-0.8},{"t":1244,"ax":"RA","c":1.2},{"t":1276,"ax":"RA","c":-0.7},{"t":1307,"ax":"RA","c":0.8},{"t":1338,"ax":"RA","c":-1.3},{"t":1370,"ax":"RA","c":0.6},{"t":1401,"ax":"RA","c":-0.9},{"t":1432,"ax":"RA","c":1.0},{"t":1464,"ax":"RA","c":-0.7},{"t":1495,"ax":"RA","c":0.9},{"t":1526,"ax":"RA","c":-1.1},{"t":1557,"ax":"RA","c":0.7}
],
"sessions": [
{"r":34,"r2":35,"c":0,"c2":1,"text":"34"},{"r":34,"r2":35,"c":1,"c2":2,"text":"2025-09-26 03:01:05"},{"r":34,"r2":35,"c":2,"c2":3,"text":"Guiding"},{"r":34,"r2":35,"c":3,"c2":4,"text":"9m53s"},
{"r":35,"r2":36,"c":0,"c2":1,"text":"35"},{"r":35,"r2":36,"c":1,"c2":2,"text":"2025-09-26 03:13:02"},{"r":35,"r2":36,"c":2,"c2":3,"text":"Guiding"},{"r":35,"r2":36,"c":3,"c2":4,"text":"26m43s"},
{"r":36,"r2":37,"c":0,"c2":1,"text":"36"},{"r":36,"r2":37,"c":1,"c2":2,"text":"2025-09-26 03:42:07"},{"r":36,"r2":37,"c":2,"c2":3,"text":"Guiding"},{"r":36,"r2":37,"c":3,"c2":4,"text":"4m42s"},
{"r":37,"r2":38,"c":0,"c2":1,"text":"37"},{"r":37,"r2":38,"c":1,"c2":2,"text":"2025-09-26 03:50:57"},{"r":37,"r2":38,"c":2,"c2":3,"text":"Guiding"},{"r":37,"r2":38,"c":3,"c2":4,"text":"4m33s"}
],
"texts1": [
{"i":0,"text":"Norm rates RA = 7.6\"/s @ dec 0, Dec = 5.1\"/s, ortho.err. = 0.0 deg"},
{"i":1,"text":"X guide algorithm = Hysteresis, Hysteresis = 0.100, Aggression = 0.700, Minimum move = 0.130"},
{"i":2,"text":"Y guide algorithm = Resist Switch, Minimum move = 0.200 Aggression = 100% FastSwitch = enabled"},
{"i":3,"text":"Backlash comp = disabled, pulse = 20 ms"},
{"i":4,"text":"Max RA duration = 2500, Max DEC duration = 2500, DEC guide mode = North"},
{"i":5,"text":"2025-09-26 03:27:50 Frame 411 t=888.26 (x,y)=(0.04,-0.07) (RA,Dec)=(0.08,0.03) guide (0.00,0.00) corr (0,0) m=6688 SNR=52.4"}
],
"boxes3": [
{"kind":"white","a":0,"b":1},{"kind":"sep","a":2,"b":3},{"kind":"black","a":4,"b":5},{"kind":"btn","a":6,"b":7},{"kind":"btn","a":8,"b":9},{"kind":"btn","a":10,"b":11},{"kind":"btn","a":12,"b":13},{"kind":"group","a":14,"b":15},{"kind":"group","a":16,"b":17},{"kind":"group","a":18,"b":19},{"kind":"group","a":20,"b":21},{"kind":"cover","a":22,"b":23},{"kind":"cover","a":24,"b":25},{"kind":"cover","a":26,"b":27},{"kind":"cover","a":28,"b":29},{"kind":"panel","a":30,"b":31},{"kind":"tab","a":32,"b":33},{"kind":"tabsel","a":34,"b":35}
],
"texts3": [
{"i":0,"text":"—RA","kind":"ra"},{"i":1,"text":"—Dec","kind":"dec"},{"i":2,"text":"-","kind":"txt"},{"i":3,"text":"+","kind":"txt"},{"i":4,"text":"R","kind":"txt"},{"i":5,"text":"Te","kind":"txt"},{"i":6,"text":"Plot options","kind":"txt"},{"i":7,"text":"Device","kind":"txt"},{"i":8,"text":"Units","kind":"txt"},{"i":9,"text":"Axes","kind":"txt"},{"i":10,"text":"Mount","kind":"txt"},{"i":11,"text":"AO","kind":"dis"},{"i":12,"text":"arc-sec","kind":"txt"},{"i":13,"text":"pixels","kind":"txt"},{"i":14,"text":"RA/Dec","kind":"txt"},{"i":15,"text":"dx/dy","kind":"txt"},{"i":16,"text":"Corrections","kind":"txt"},{"i":17,"text":"Grid","kind":"txt"},{"i":18,"text":"RA","kind":"txt"},{"i":19,"text":"Dec","kind":"txt"},{"i":20,"text":"Star mass","kind":"txt"},{"i":21,"text":"SNR","kind":"txt"},{"i":22,"text":"Events","kind":"txt"},{"i":23,"text":"Limits","kind":"txt"},{"i":24,"text":"Scatter","kind":"txt"},{"i":25,"text":"Statistics","kind":"txt"},{"i":26,"text":"Drift","kind":"txt"}
],
"checks": [
{"i":0,"state":"on"},{"i":1,"state":"on"},{"i":2,"state":"on"},{"i":3,"state":"on"},{"i":4,"state":"off"},{"i":5,"state":"off"},{"i":6,"state":"on"},{"i":7,"state":"off"},{"i":8,"state":"off"}
],
"radios": [
{"i":0,"state":"sel"},{"i":1,"state":"dis"},{"i":2,"state":"sel"},{"i":3,"state":"off"},{"i":4,"state":"sel"},{"i":5,"state":"off"}
],
"stats": [
{"row":"h","col":"h","text":"","type":"head"},{"row":"h","col":"RMS","text":"RMS","type":"head"},{"row":"h","col":"Peak","text":"Peak","type":"head"},
{"row":"RA","col":"h","text":"RA","type":"head"},{"row":"RA","col":"RMS","text":"0.86\" (0.34 px)","type":"val"},{"row":"RA","col":"Peak","text":"-4.58\" (-1.84 px)","type":"val"},
{"row":"Dec","col":"h","text":"Dec","type":"head"},{"row":"Dec","col":"RMS","text":"2.61\" (1.05 px)","type":"val"},{"row":"Dec","col":"Peak","text":"-15.97\" (-6.41 px)","type":"val"},
{"row":"Total","col":"h","text":"Total","type":"head"},{"row":"Total","col":"RMS","text":"2.75\" (1.10 px)","type":"val"},{"row":"Total","col":"Peak","text":"","type":"val"}
]
},
"vconcat": [
{
"width": 1842, "height": 112,
"layer": [
{"data": {"values": [{"box":"list","a":0,"b":1},{"box":"info","a":2,"b":3},{"box":"status","a":4,"b":5}]},
 "mark": {"type":"rect","clip":true,"strokeWidth":1},
 "encoding": {
  "x": {"field":"a","type":"quantitative","scale":{"domain":[0,1,2,3,4,5],"range":[0.5,420.5,446.5,1843,-1,1843],"nice":false,"zero":false},"axis":null},
  "x2": {"field":"b"},
  "y": {"field":"a","type":"quantitative","scale":{"domain":[0,1,2,3,4,5],"range":[-1,58.5,-1,58.5,80.5,100.5],"nice":false,"zero":false},"axis":null},
  "y2": {"field":"b"},
  "fill": {"field":"box","type":"nominal","scale":{"domain":["list","info","status"],"range":["#fcfcfc","#ffffff","#f7f7f7"]},"legend":null},
  "stroke": {"field":"box","type":"nominal","scale":{"domain":["list","info","status"],"range":["#d0d0d0","#9a9a9a","#d8d8d8"]},"legend":null}
 }},
{"data": {"name":"sessions"},
 "mark": {"type":"rect","clip":true,"strokeWidth":1,"stroke":"#dadada"},
 "encoding": {
  "x": {"field":"c","type":"quantitative","scale":{"domain":[0,1,2,3,4],"range":[2.5,26.5,139.5,208.5,255.5],"nice":false,"zero":false},"axis":null},
  "x2": {"field":"c2"},
  "y": {"field":"r","type":"quantitative","scale":{"domain":[34,38],"range":[-14,74],"nice":false,"zero":false},"axis":null},
  "y2": {"field":"r2"},
  "fill": {"condition":{"test":"datum.r == 35","value":"#9d9d9d"},"value":"#ffffff"}
 }},
{"data": {"name":"sessions"},
 "mark": {"type":"text","align":"left","baseline":"middle","dx":4,"dy":11,"fontSize":11.5,"clip":true},
 "encoding": {
  "x": {"field":"c","type":"quantitative","scale":{"domain":[0,1,2,3,4],"range":[2.5,26.5,139.5,208.5,255.5],"nice":false,"zero":false},"axis":null},
  "y": {"field":"r","type":"quantitative","scale":{"domain":[34,38],"range":[-14,74],"nice":false,"zero":false},"axis":null},
  "text": {"field":"text"},
  "color": {"condition":{"test":"datum.r == 35","value":"#ffffff"},"value":"#000000"}
 }},
{"data": {"name":"texts1"},
 "mark": {"type":"text","align":"left","baseline":"middle","fontSize":11,"color":"#000000","clip":true},
 "encoding": {
  "x": {"field":"i","type":"quantitative","scale":{"domain":[0,4,5],"range":[451,451,5],"nice":false,"zero":false},"axis":null},
  "y": {"field":"i","type":"quantitative","scale":{"domain":[0,4,5],"range":[3.3,56.7,90],"nice":false,"zero":false},"axis":null},
  "text": {"field":"text"}
 }},
{"data": {"values": [{"a":0,"b":1}]},
 "mark": {"type":"rect","color":"#f0f0f0","clip":true},
 "encoding": {
  "x": {"field":"a","type":"quantitative","scale":{"domain":[0,1],"range":[0,1842],"nice":false,"zero":false},"axis":null},
  "x2": {"field":"b"},
  "y": {"field":"a","type":"quantitative","scale":{"domain":[0,1],"range":[59,80],"nice":false,"zero":false},"axis":null},
  "y2": {"field":"b"}
 }}
],
"resolve": {"scale": {"x":"independent","y":"independent","fill":"independent","stroke":"independent","color":"independent"}}
},
{
"width": 1842, "height": 500,
"view": {"fill": "#000000", "stroke": null},
"layer": [
{"data": {"values": [{"phase":"settling","start":4.29,"end":30.9}]},
 "mark": {"type":"rect","color":"#333333","clip":true},
 "encoding": {
  "x": {"field":"start","type":"quantitative","scale":{"domain":[4.29,1583.1],"nice":false,"zero":false}},
  "x2": {"field":"end"}
 }},
{"data": {"name":"corr"},
 "mark": {"type":"rule","strokeWidth":1,"clip":true},
 "encoding": {
  "x": {"field":"t","type":"quantitative","scale":{"domain":[4.29,1583.1],"nice":false,"zero":false}},
  "y": {"field":"c","type":"quantitative","scale":{"domain":[-16.45,16.45],"nice":false,"zero":false}},
  "y2": {"datum":0},
  "color": {"field":"ax","type":"nominal","scale":{"domain":["RA","Dec"],"range":["#4c4cc4","#b00000"]},"legend":null}
 }},
{"data": {"values": [{"v":0}]},
 "mark": {"type":"rule","color":"#a8a8a8","strokeWidth":1},
 "encoding": {
  "y": {"field":"v","type":"quantitative","scale":{"domain":[-16.45,16.45],"nice":false,"zero":false}}
 }},
{"data": {"name":"guide"},
 "mark": {"type":"line","color":"#6464ff","strokeWidth":2,"clip":true},
 "encoding": {
  "x": {"field":"t","type":"quantitative","scale":{"domain":[4.29,1583.1],"nice":false,"zero":false},
   "axis":{"orient":"top","values":[60,180,300,420,540,660,780,900,1020,1140,1260,1380,1500],"labelExpr":"'03:' + (13 + datum.value / 60)","title":null,"grid":false,"domain":false,"ticks":true,"tickSize":10,"tickColor":"#c0c0c0","tickWidth":1,"offset":-10,"labelAlign":"left","labelBaseline":"alphabetic","labelPadding":-12,"labelOffset":3,"labelColor":"#c8c8c8","labelFontSize":11,"labelFlush":false,"labelOverlap":false,"labelBound":false,"zindex":1}},
  "y": {"field":"r","type":"quantitative","scale":{"domain":[-16.45,16.45],"nice":false,"zero":false},
   "axis":{"orient":"left","values":[-15,-10,-5,5,10,15],"labelExpr":"datum.value + '\"'","title":null,"grid":true,"gridColor":"#808080","gridDash":[3,3],"gridWidth":1,"domain":false,"ticks":false,"tickSize":0,"labelAlign":"left","labelBaseline":"top","labelPadding":-3,"labelOffset":4,"labelColor":"#c8c8c8","labelFontSize":11,"labelFlush":false,"labelOverlap":false,"labelBound":false,"zindex":1}}
 }},
{"data": {"name":"guide"},
 "mark": {"type":"line","color":"#ff0000","strokeWidth":2,"clip":true},
 "encoding": {
  "x": {"field":"t","type":"quantitative","scale":{"domain":[4.29,1583.1],"nice":false,"zero":false}},
  "y": {"field":"d","type":"quantitative","scale":{"domain":[-16.45,16.45],"nice":false,"zero":false}}
 }},
{"data": {"values": [{"t":4.29,"event":"Settling started","v":-16.12},{"t":31.8,"event":"Settling complete","v":-15.07}]},
 "mark": {"type":"text","align":"left","baseline":"alphabetic","fontSize":11.5,"color":"#c8c8c8","clip":true},
 "encoding": {
  "x": {"field":"t","type":"quantitative","scale":{"domain":[4.29,1583.1],"nice":false,"zero":false}},
  "y": {"field":"v","type":"quantitative","scale":{"domain":[-16.45,16.45],"nice":false,"zero":false}},
  "text": {"field":"event"}
 }},
{"data": {"values": [{"t":1558.3,"label":"Guide","ax":"Dec","v":14.93},{"t":1562.6,"label":"Guide","ax":"RA","v":-14.93}]},
 "mark": {"type":"text","align":"left","baseline":"middle","fontSize":12,"clip":true},
 "encoding": {
  "x": {"field":"t","type":"quantitative","scale":{"domain":[4.29,1583.1],"nice":false,"zero":false}},
  "y": {"field":"v","type":"quantitative","scale":{"domain":[-16.45,16.45],"nice":false,"zero":false}},
  "text": {"field":"label"},
  "color": {"field":"ax","type":"nominal","scale":{"domain":["RA","Dec"],"range":["#4848d8","#c00000"]},"legend":null}
 }}
]
},
{
"width": 1842, "height": 194,
"layer": [
{"data": {"name":"boxes3"},
 "mark": {"type":"rect","clip":true,"strokeWidth":1,"cornerRadius":2},
 "encoding": {
  "x": {"field":"a","type":"quantitative","scale":{"domain":[0,1,2,3,4,5,6,7,8,9,10,11,12,13,14,15,16,17,18,19,20,21,22,23,24,25,26,27,28,29,30,31,32,33,34,35],"range":[0,1842,15,1842,0,92,897,925,938,965,978,1005,1813,1860,3,599,8,77,87,156,162,233,6,72,14,60,93,124,167,195,611,1210,671,715,611,671],"nice":false,"zero":false},"axis":null},
  "x2": {"field":"b"},
  "y": {"field":"a","type":"quantitative","scale":{"domain":[0,1,2,3,4,5,6,7,8,9,10,11,12,13,14,15,16,17,18,19,20,21,22,23,24,25,26,27,28,29,30,31,32,33,34,35],"range":[10,11,18,21,41,52,38,61,38,61,38,61,38,61,80,191,110,174,110,174,110,174,73,89,103,117,103,117,103,117,95,192,78,95,75,96],"nice":false,"zero":false},"axis":null},
  "y2": {"field":"b"},
  "fill": {"field":"kind","type":"nominal","scale":{"domain":["white","sep","black","btn","group","cover","panel","tab","tabsel"],"range":["#ffffff","#7a7a7a","#000000","#fdfdfd","#f0f0f0","#f0f0f0","#f9f9f9","#f0f0f0","#f9f9f9"]},"legend":null},
  "stroke": {"field":"kind","type":"nominal","scale":{"domain":["white","sep","black","btn","group","cover","panel","tab","tabsel"],"range":["#ffffff","#7a7a7a","#000000","#cfcfcf","#d5d5d5","#f0f0f0","#dadada","#dadada","#dadada"]},"legend":null}
 }},
{"data": {"name":"texts3"},
 "mark": {"type":"text","align":"left","baseline":"middle","fontSize":12,"clip":true},
 "encoding": {
  "x": {"field":"i","type":"quantitative","scale":{"domain":[0,1,2,3,4,5,6,7,8,9,10,11,12,13,14,15,16,17,18,19,20,21,22,23,24,25,26],"range":[4,50,909,948,988,1829,8,17,96,170,31,31,108,108,184,184,255,255,349,349,399,399,480,480,545,618,676],"nice":false,"zero":false},"axis":null},
  "y": {"field":"i","type":"quantitative","scale":{"domain":[0,1,2,3,4,5,6,7,8,9,10,11,12,13,14,15,16,17,18,19,20,21,22,23,24,25,26],"range":[47,47,49.5,49.5,49.5,49.5,81,110,110,110,135,157,135,157,135,157,129.5,154,129.5,154,129.5,154,129.5,154,141,85,86],"nice":false,"zero":false},"axis":null},
  "text": {"field":"text"},
  "color": {"field":"kind","type":"nominal","scale":{"domain":["ra","dec","txt","dis"],"range":["#6464ff","#ff0000","#000000","#a0a0a0"]},"legend":null}
 }},
{"data": {"name":"checks"},
 "mark": {"type":"square","size":125,"strokeWidth":1,"opacity":1,"clip":true},
 "encoding": {
  "x": {"field":"i","type":"quantitative","scale":{"domain":[0,1,2,3,4,5,6,7,8],"range":[245.5,245.5,339,339,391,391,472.5,472.5,538.5],"nice":false,"zero":false},"axis":null},
  "y": {"field":"i","type":"quantitative","scale":{"domain":[0,1,2,3,4,5,6,7,8],"range":[129.5,154,129.5,154,129.5,154,129.5,154,141],"nice":false,"zero":false},"axis":null},
  "fill": {"field":"state","type":"nominal","scale":{"domain":["on","off"],"range":["#0060c0","#ffffff"]},"legend":null},
  "stroke": {"field":"state","type":"nominal","scale":{"domain":["on","off"],"range":["#0060c0","#333333"]},"legend":null}
 }},
{"data": {"name":"checks"},
 "transform": [{"filter":"datum.state == 'on'"}],
 "mark": {"type":"text","align":"center","baseline":"middle","font":"DejaVu Sans","fontSize":9,"color":"#ffffff","clip":true},
 "encoding": {
  "x": {"field":"i","type":"quantitative","scale":{"domain":[0,1,2,3,4,5,6,7,8],"range":[245.5,245.5,339,339,391,391,472.5,472.5,538.5],"nice":false,"zero":false},"axis":null},
  "y": {"field":"i","type":"quantitative","scale":{"domain":[0,1,2,3,4,5,6,7,8],"range":[129.5,154,129.5,154,129.5,154,129.5,154,141],"nice":false,"zero":false},"axis":null},
  "text": {"value":"✓"}
 }},
{"data": {"name":"radios"},
 "transform": [{"filter":"datum.state != 'sel'"}],
 "mark": {"type":"circle","fill":"#ffffff","size":115,"strokeWidth":1,"opacity":1,"clip":true},
 "encoding": {
  "x": {"field":"i","type":"quantitative","scale":{"domain":[0,1,2,3,4,5],"range":[21,21,99,99,175,175],"nice":false,"zero":false},"axis":null},
  "y": {"field":"i","type":"quantitative","scale":{"domain":[0,1,2,3,4,5],"range":[135.5,157,135.5,157,135.5,157],"nice":false,"zero":false},"axis":null},
  "stroke": {"field":"state","type":"nominal","scale":{"domain":["off","dis"],"range":["#333333","#bbbbbb"]},"legend":null}
 }},
{"data": {"name":"radios"},
 "transform": [{"filter":"datum.state == 'sel'"}],
 "mark": {"type":"circle","fill":"#ffffff","stroke":"#0060c0","size":50,"strokeWidth":4,"opacity":1,"clip":true},
 "encoding": {
  "x": {"field":"i","type":"quantitative","scale":{"domain":[0,1,2,3,4,5],"range":[21,21,99,99,175,175],"nice":false,"zero":false},"axis":null},
  "y": {"field":"i","type":"quantitative","scale":{"domain":[0,1,2,3,4,5],"range":[135.5,157,135.5,157,135.5,157],"nice":false,"zero":false},"axis":null}
 }},
{"data": {"name":"stats"},
 "mark": {"type":"rect","stroke":"#a0a0a0","strokeWidth":1,"clip":true},
 "encoding": {
  "x": {"field":"col","type":"nominal","scale":{"domain":["h","RMS","Peak"],"range":[619,883],"paddingInner":0,"paddingOuter":0},"axis":null},
  "y": {"field":"row","type":"nominal","scale":{"domain":["h","RA","Dec","Total"],"range":[102,184],"paddingInner":0,"paddingOuter":0},"axis":null},
  "fill": {"field":"type","type":"nominal","scale":{"domain":["head","val"],"range":["#f4f4f4","#c8c8c8"]},"legend":null}
 }},
{"data": {"name":"stats"},
 "transform": [{"filter":"datum.type == 'head'"}],
 "mark": {"type":"text","align":"center","baseline":"middle","fontWeight":"bold","fontSize":12,"color":"#000000","clip":true},
 "encoding": {
  "x": {"field":"col","type":"nominal","scale":{"domain":["h","RMS","Peak"],"range":[619,883],"paddingInner":0,"paddingOuter":0},"axis":null},
  "y": {"field":"row","type":"nominal","scale":{"domain":["h","RA","Dec","Total"],"range":[102,184],"paddingInner":0,"paddingOuter":0},"axis":null},
  "text": {"field":"text"}
 }},
{"data": {"name":"stats"},
 "transform": [{"filter":"datum.type == 'val'"}],
 "mark": {"type":"text","align":"left","baseline":"middle","dx":-41,"fontSize":11,"color":"#000000","clip":true},
 "encoding": {
  "x": {"field":"col","type":"nominal","scale":{"domain":["h","RMS","Peak"],"range":[619,883],"paddingInner":0,"paddingOuter":0},"axis":null},
  "y": {"field":"row","type":"nominal","scale":{"domain":["h","RA","Dec","Total"],"range":[102,184],"paddingInner":0,"paddingOuter":0},"axis":null},
  "text": {"field":"text"}
 }}
],
"resolve": {"scale": {"x":"independent","y":"independent","fill":"independent","stroke":"independent","color":"independent"}}
}
]
}
